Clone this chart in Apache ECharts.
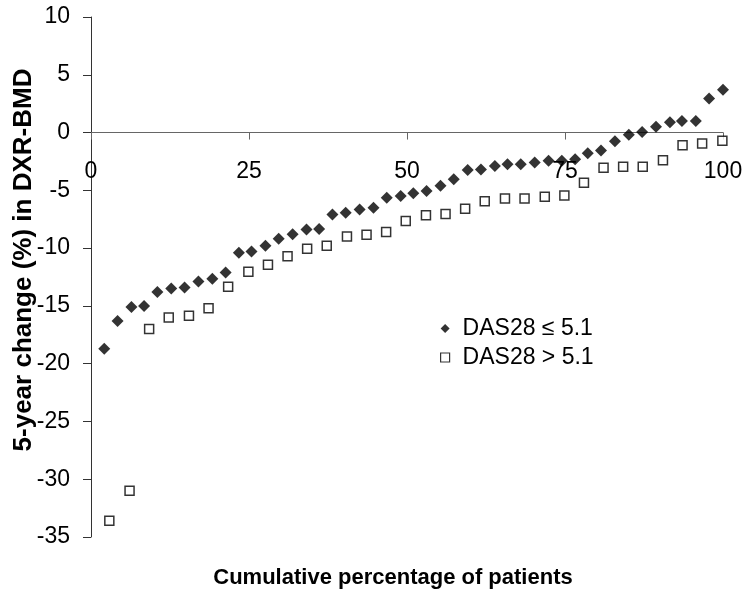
<!DOCTYPE html>
<html>
<head>
<meta charset="utf-8">
<script src="https://cdn.jsdelivr.net/npm/echarts@6/dist/echarts.min.js"></script>
<style>
  html, body { margin: 0; padding: 0; background: #fff; }
  #chart { width: 746px; height: 597px; }
</style>
</head>
<body>
<div id="chart"></div>
<script>
// DAS28 <= 5.1 (filled diamonds)
var lowX = [2.1, 4.2, 6.4, 8.4, 10.5, 12.7, 14.8, 17.0, 19.2, 21.3, 23.4, 25.4, 27.6, 29.7,
  31.9, 34.1, 36.1, 38.2, 40.3, 42.5, 44.7, 46.8, 49.0, 51.0, 53.1, 55.3, 57.4, 59.6,
  61.7, 63.9, 65.9, 68.0, 70.2, 72.4, 74.5, 76.6, 78.6, 80.7, 82.9, 85.1, 87.2, 89.4,
  91.6, 93.5, 95.7, 97.8, 100]
var lowY = [-18.7, -16.3, -15.1, -15.0, -13.8, -13.5, -13.4, -12.9, -12.65, -12.1, -10.4, -10.3, -9.8, -9.2,
  -8.8, -8.4, -8.35, -7.1, -6.95, -6.65, -6.5, -5.65, -5.5, -5.25, -5.05, -4.6, -4.05, -3.25,
  -3.2, -2.9, -2.75, -2.75, -2.6, -2.45, -2.45, -2.3, -1.8, -1.55, -0.75, -0.2, 0.05, 0.5,
  0.9, 1.0, 1.0, 2.95, 3.7]

// DAS28 > 5.1 (open squares)
var highX = [2.9, 6.1, 9.2, 12.3, 15.5, 18.6, 21.7, 24.9, 28.0, 31.1, 34.2, 37.3, 40.5, 43.6,
  46.7, 49.8, 53.0, 56.1, 59.2, 62.3, 65.5, 68.6, 71.8, 74.9, 78.0, 81.1, 84.2, 87.3,
  90.5, 93.6, 96.7, 99.9]
var highY = [-33.6, -31.0, -17.0, -16.0, -15.85, -15.2, -13.35, -12.05, -11.45, -10.7, -10.05, -9.8, -9.0, -8.85,
  -8.6, -7.65, -7.15, -7.05, -6.6, -5.95, -5.7, -5.7, -5.55, -5.45, -4.35, -3.05, -2.95, -2.95,
  -2.4, -1.1, -0.95, -0.7]

var seriesNames = ['DAS28 ≤ 5.1', 'DAS28 > 5.1']

var yMin = -35
var yMax = 10

function pairs (xs, ys) {
  return xs.map(function (x, i) { return [x, ys[i]] })
}

var font = '"Liberation Sans", Arial, sans-serif'
var gridTop = 17
var gridBottom = 60
var gridHeight = 597 - gridTop - gridBottom
// move the x axis (line, ticks, labels) up to y = 0
var xOffset = -gridHeight * (0 - yMin) / (yMax - yMin)

var chart = echarts.init(document.getElementById('chart'))
var option = {
  animation: false,
  backgroundColor: '#fff',
  textStyle: { fontFamily: font },
  grid: { left: 91, right: 23, top: gridTop, bottom: gridBottom, containLabel: false, outerBoundsMode: 'none' },
  legend: {
    data: [
      { name: seriesNames[0], icon: 'diamond' },
      { name: seriesNames[1], icon: 'rect', itemStyle: { color: '#fff', borderColor: '#000', borderWidth: 1.2 } }
    ],
    orient: 'vertical',
    left: 440,
    top: 317,
    padding: 0,
    itemWidth: 9,
    itemHeight: 9,
    itemGap: 6,
    textStyle: { fontFamily: font, fontSize: 23, color: '#000', padding: [0, 0, 0, 8] }
  },
  graphic: [{
    type: 'text',
    x: 393,
    y: 578,
    style: {
      text: 'Cumulative percentage of patients',
      font: 'bold 22px ' + font,
      fill: '#000',
      align: 'center',
      verticalAlign: 'middle'
    }
  }, {
    type: 'text',
    x: 24,
    y: 260,
    rotation: Math.PI / 2,
    style: {
      text: '5-year change (%) in DXR-BMD',
      font: 'bold 26px ' + font,
      fill: '#000',
      align: 'center',
      verticalAlign: 'middle'
    }
  }],
  xAxis: {
    type: 'value',
    min: 0,
    max: 100,
    interval: 25,
    offset: xOffset,
    axisLine: { onZero: false, lineStyle: { color: '#666', width: 1 } },
    axisTick: { show: true, inside: false, length: 7, lineStyle: { color: '#666' } },
    axisLabel: { margin: 28, fontSize: 23, color: '#000', fontFamily: font },
    splitLine: { show: false }
  },
  yAxis: {
    type: 'value',
    min: yMin,
    max: yMax,
    interval: 5,
    axisLine: { show: true, lineStyle: { color: '#333', width: 1 } },
    axisTick: { show: true, length: 8, lineStyle: { color: '#333' } },
    axisLabel: { margin: 21, fontSize: 23, color: '#000', fontFamily: font },
    splitLine: { show: false }
  },
  series: [{
    name: seriesNames[0],
    type: 'scatter',
    symbol: 'diamond',
    symbolSize: 12,
    itemStyle: { color: '#000' },
    data: pairs(lowX, lowY)
  }, {
    name: seriesNames[1],
    type: 'scatter',
    symbol: 'rect',
    symbolSize: 9,
    itemStyle: { color: '#fff', borderColor: '#000', borderWidth: 1.5 },
    data: pairs(highX, highY)
  }]
}
chart.setOption(option)
</script>
</body>
</html>
